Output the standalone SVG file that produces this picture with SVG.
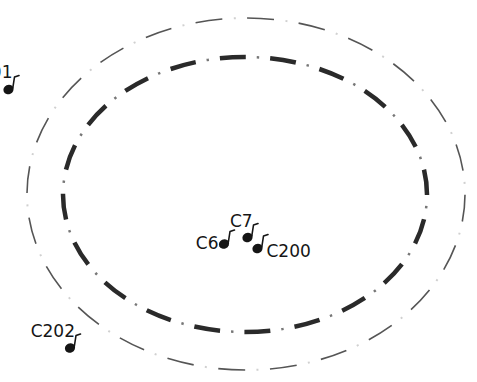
<svg xmlns="http://www.w3.org/2000/svg" width="477" height="382" viewBox="0 0 477 382">
<style>
.lbl{font-family:"DejaVu Sans","Liberation Sans",sans-serif;font-size:17px;fill:#161616}
.head{fill:#151515}
.stem{fill:none;stroke:#151515;stroke-width:1.6;stroke-linecap:round;stroke-linejoin:round}
</style>
<defs>
<g id="note">
<ellipse class="head" cx="0" cy="0" rx="5.2" ry="4.6" transform="rotate(-25)"/>
<path class="stem" d="M4.3,-1.5 L6,-12.5 L10.5,-14"/>
</g>
</defs>
<rect width="477" height="382" fill="#fff"/>
<g id="connectors">
<ellipse cx="246" cy="194" rx="219" ry="176" fill="none" stroke="#d0d0d0" stroke-width="2" stroke-dasharray="2 49.86" stroke-dashoffset="-39.2"/>
<ellipse cx="246" cy="194" rx="219" ry="176" fill="none" stroke="#555" stroke-width="1.6" stroke-dasharray="27 24.86" stroke-dashoffset="-0.7"/>
<ellipse cx="245" cy="194.5" rx="182" ry="137.5" fill="none" stroke="#777" stroke-width="2.5" stroke-dasharray="2.4 48.03" stroke-dashoffset="-11.5"/>
<ellipse cx="245" cy="194.5" rx="182" ry="137.5" fill="none" stroke="#2a2a2a" stroke-width="4.5" stroke-dasharray="26 24.43" stroke-dashoffset="25.5"/>
</g>
<g id="C01"><use href="#note" x="8.5" y="89.5"/><text class="lbl" x="12.5" y="78" text-anchor="end">C01</text></g>
<g id="C6"><use href="#note" x="224" y="244"/><text class="lbl" x="218.5" y="248.5" text-anchor="end">C6</text></g>
<g id="C7"><use href="#note" x="247.5" y="237.5"/><text class="lbl" x="230" y="227">C7</text></g>
<g id="C200"><use href="#note" x="257.5" y="248.5"/><text class="lbl" x="266.5" y="257">C200</text></g>
<g id="C202"><use href="#note" x="70" y="348"/><text class="lbl" x="75" y="337" text-anchor="end">C202</text></g>
</svg>
